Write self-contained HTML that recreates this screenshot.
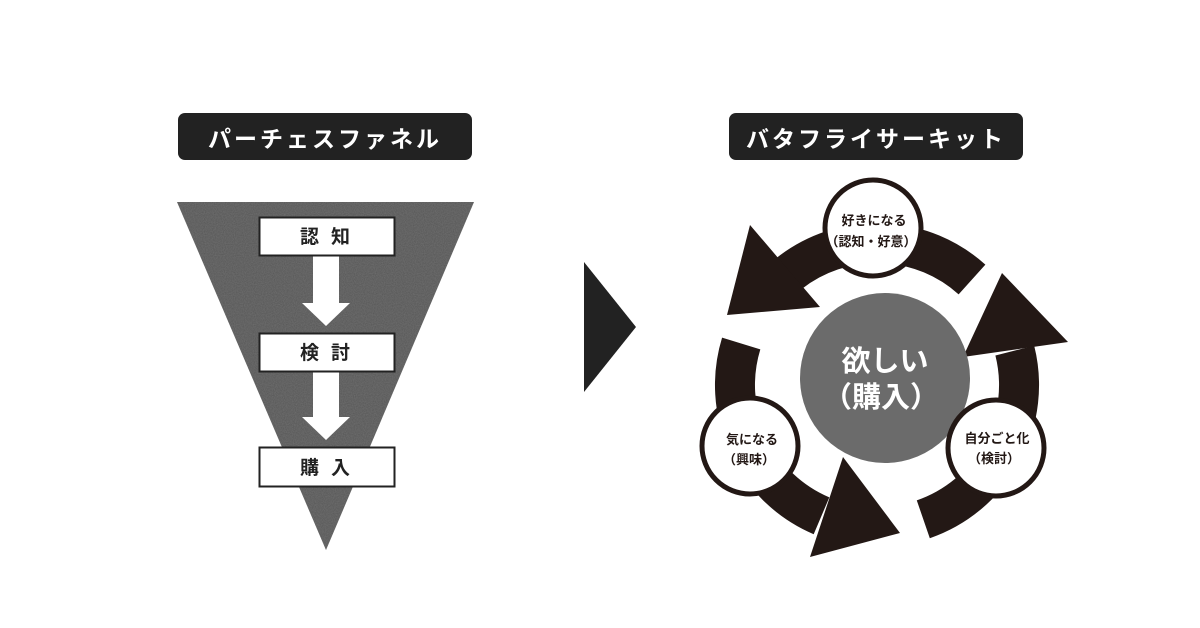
<!DOCTYPE html>
<html><head><meta charset="utf-8"><style>
html,body{margin:0;padding:0;background:#fff;}
body{width:1200px;height:628px;overflow:hidden;position:relative;font-family:"Liberation Sans","Noto Sans CJK JP",sans-serif;}
.pill{position:absolute;top:113px;height:47px;background:#222;border-radius:7px;color:#fff;font-weight:bold;font-size:23px;letter-spacing:3px;display:flex;align-items:center;justify-content:center;}
</style></head><body>
<div class="pill" style="left:178px;width:294px;">パーチェスファネル</div>
<div class="pill" style="left:729px;width:294px;">バタフライサーキット</div>
<svg width="1200" height="628" style="position:absolute;left:0;top:0" xmlns="http://www.w3.org/2000/svg">
<defs>
<filter id="n" x="0" y="0" width="100%" height="100%">
<feTurbulence type="fractalNoise" baseFrequency="0.9" numOctaves="2" seed="3" result="t"/>
<feColorMatrix in="t" type="matrix" values="0 0 0 0 0.3  0 0 0 0 0.3  0 0 0 0 0.3  0 0 0 0.35 0" result="c"/>
<feComposite in="c" in2="SourceGraphic" operator="in" result="m"/>
<feMerge><feMergeNode in="SourceGraphic"/><feMergeNode in="m"/></feMerge>
</filter>
</defs>
<polygon points="177,202 474,202 326,550" fill="#555" filter="url(#n)"/>
<polygon points="313,255 339,255 339,303 350,303 326,326 302,303 313,303" fill="#fff"/>
<polygon points="313,371 339,371 339,417 350,417 326,440 302,417 313,417" fill="#fff"/>
<g font-weight="bold" font-size="19" fill="#222" text-anchor="middle" font-family="Liberation Sans, Noto Sans CJK JP, sans-serif">
<rect x="259.5" y="217.5" width="135" height="38" fill="#fff" stroke="#222" stroke-width="2"/>
<text x="331" y="243" letter-spacing="12">認知</text>
<rect x="259.5" y="333.5" width="135" height="38" fill="#fff" stroke="#222" stroke-width="2"/>
<text x="331" y="359" letter-spacing="12">検討</text>
<rect x="259.5" y="447.5" width="135" height="39" fill="#fff" stroke="#222" stroke-width="2"/>
<text x="331" y="474" letter-spacing="12">購入</text>
</g>
<polygon points="584,262 636,327 584,392" fill="#222"/>
<g fill="none" stroke="#231815" stroke-width="40">
<path d="M972,279.5 A142,142 0 0 0 789.6,273.1"/>
<path d="M741.2,343.5 A142,142 0 0 0 821.5,515.8"/>
<path d="M923.3,519.3 A142,142 0 0 0 1014.8,350.6"/>
</g>
<g fill="#231815">
<polygon points="750,225 820,307 727,315"/>
<polygon points="843,457 900,533 810,557"/>
<polygon points="1068,342 963,357 1002,273"/>
</g>
<circle cx="885" cy="378" r="85" fill="#6b6b6b"/>
<g fill="#fff" stroke="#231815" stroke-width="5">
<circle cx="873" cy="228" r="48"/>
<circle cx="750" cy="446" r="48"/>
<circle cx="996" cy="448" r="48"/>
</g>
<g font-family="Liberation Sans, Noto Sans CJK JP, sans-serif" font-weight="bold" text-anchor="middle">
<text x="885" y="371" font-size="29" fill="#fff">欲しい</text>
<text x="881" y="407" font-size="29" fill="#fff">（購入）</text>
<g font-size="13" fill="#231815">
<text x="874" y="225">好きになる</text>
<text x="871" y="246">（認知・好意）</text>
<text x="752" y="444">気になる</text>
<text x="749" y="464">（興味）</text>
<text x="997" y="443">自分ごと化</text>
<text x="994" y="463">（検討）</text>
</g>
</g>
</svg>
</body></html>
